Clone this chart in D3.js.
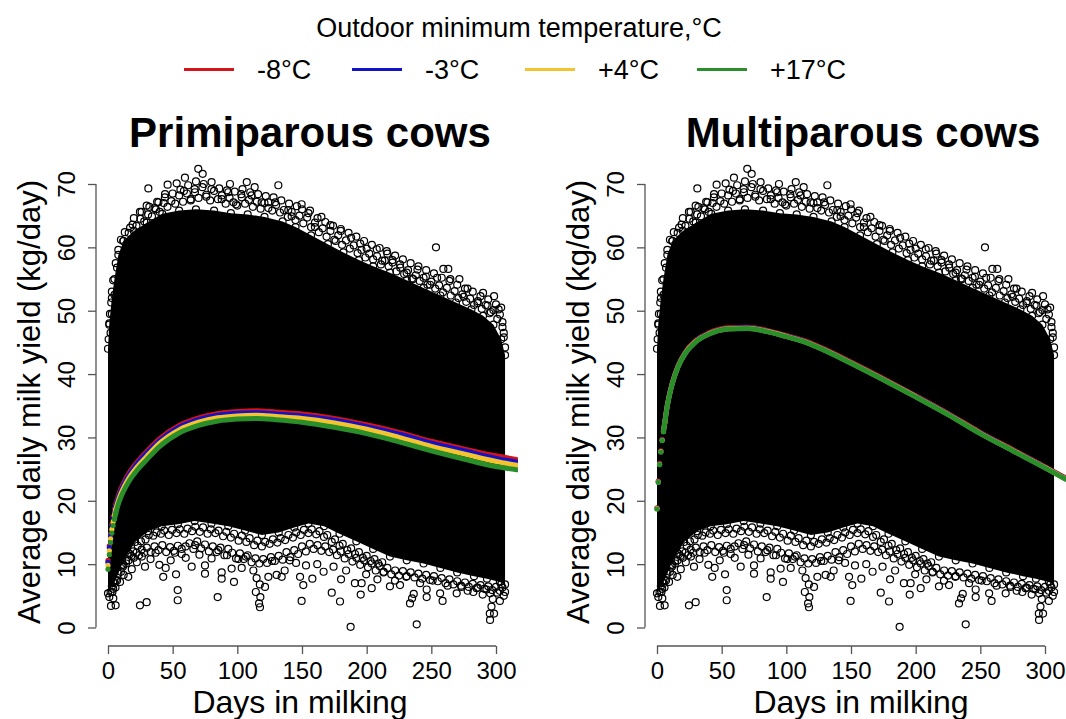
<!DOCTYPE html>
<html>
<head>
<meta charset="utf-8">
<script src="https://cdn.jsdelivr.net/npm/d3@7/dist/d3.min.js"></script>
<style>
  body { margin: 0; background: #fff; }
  svg text { font-family: "Liberation Sans", Arial, Helvetica, sans-serif; fill: #000; }
</style>
</head>
<body>
<svg id="chart" width="1066" height="719"></svg>
<script>
// legend / series
var tempLabels = ["-8°C", "-3°C", "+4°C", "+17°C"];
var panelTitles = ["Primiparous cows", "Multiparous cows"];

// fitted curves, day in milk -> kg/day
var curveDays = [0, 1, 2, 3, 4, 5, 6, 8, 10, 12, 16, 22, 30, 40, 55, 70, 85, 100, 115, 130, 150, 175, 200, 225, 250, 275, 300, 316];

var primiMinus8 = [10.6, 12.9, 14.8, 16.3, 17.5, 18.5, 19.4, 20.8, 21.9, 22.8, 24.3, 26.0, 27.8, 29.8, 31.9, 33.1, 33.8, 34.1, 34.2, 34.0, 33.7, 33.0, 32.0, 30.8, 29.4, 28.2, 27.1, 26.5];
var primiMinus3 = [10.3, 12.6, 14.5, 16.0, 17.2, 18.2, 19.1, 20.5, 21.6, 22.5, 24.0, 25.7, 27.5, 29.5, 31.6, 32.8, 33.5, 33.8, 33.9, 33.7, 33.4, 32.7, 31.7, 30.5, 29.1, 27.9, 26.7, 26.1];
var primiPlus4 = [9.8, 12.1, 14.0, 15.5, 16.7, 17.7, 18.6, 20.0, 21.1, 22.0, 23.5, 25.2, 27.0, 29.1, 31.2, 32.4, 33.1, 33.4, 33.5, 33.3, 33.0, 32.3, 31.3, 30.0, 28.6, 27.4, 26.2, 25.6];
var primiPlus17 = [9.2, 11.5, 13.4, 14.9, 16.1, 17.1, 18.0, 19.5, 20.6, 21.5, 23.0, 24.7, 26.5, 28.6, 30.7, 31.9, 32.6, 32.9, 33.0, 32.8, 32.4, 31.6, 30.6, 29.3, 27.9, 26.6, 25.4, 24.9];

var multiMinus8 = [18.9, 23.1, 25.9, 27.9, 29.7, 31.1, 32.5, 35.2, 37.2, 38.8, 41.2, 43.5, 45.3, 46.5, 47.3, 47.4, 46.9, 46.1, 45.2, 43.9, 41.9, 39.3, 36.6, 33.8, 30.8, 28.1, 25.4, 23.6];
var multiMinus3 = [18.8, 23.0, 25.8, 27.8, 29.6, 31.0, 32.4, 35.1, 37.1, 38.7, 41.1, 43.4, 45.2, 46.4, 47.2, 47.3, 46.8, 46.0, 45.1, 43.8, 41.8, 39.2, 36.5, 33.7, 30.7, 28.0, 25.3, 23.5];
var multiPlus4 = [18.75, 22.95, 25.75, 27.75, 29.55, 30.95, 32.35, 35.05, 37.05, 38.65, 41.05, 43.35, 45.15, 46.35, 47.15, 47.25, 46.75, 45.95, 45.05, 43.75, 41.75, 39.15, 36.45, 33.65, 30.65, 27.95, 25.25, 23.45];
var multiPlus17 = [18.7, 22.9, 25.7, 27.7, 29.5, 30.9, 32.3, 35.0, 37.0, 38.6, 41.0, 43.3, 45.1, 46.3, 47.1, 47.2, 46.7, 45.9, 45.0, 43.7, 41.7, 39.1, 36.4, 33.6, 30.6, 27.9, 25.2, 23.4];

// the dense cloud of daily records (same records in both panels): outline of the solid mass
var cloudTop = [[0, 44], [1, 48], [3, 52], [5, 55], [8, 58.8], [12, 61], [20, 62.6], [30, 63.9], [42, 65.3], [55, 65.8], [68, 66.0], [82, 65.8], [95, 65.4], [108, 65.2], [121, 64.8], [135, 64.1], [145, 63.2], [157, 61.9], [170, 60.5], [182, 59.2], [194, 58.0], [205, 57.0], [218, 56.0], [231, 54.8], [244, 53.6], [257, 52.4], [269, 51.3], [281, 50.2], [290, 49.2], [298, 47.8], [304, 45.5], [307, 43.0]];
var cloudBottom = [[0, 5.4], [3, 6.5], [6, 7.5], [10.5, 9.8], [15.7, 11.8], [21, 13.5], [31, 15.2], [41.5, 16.0], [54, 16.3], [67, 16.8], [80, 16.4], [93, 16.0], [106, 15.3], [119, 14.6], [132, 15.0], [144, 15.8], [155, 16.4], [167, 16.0], [179, 14.8], [192, 13.6], [205, 12.4], [218, 11.2], [231, 10.6], [244, 10.1], [257, 9.4], [270, 8.7], [283, 8.1], [293, 7.7], [303, 7.2], [307, 6.8]];

// records packed along the edge of the mass
var topFringe = [[4, 54.8], [6, 57.5], [8, 59.6], [10, 61.2], [13, 62.4], [16, 62.3], [19, 63.6], [22, 63.4], [25, 64.5], [28, 64.1], [31, 65.2], [34, 64.9], [37, 66.0], [40, 65.6], [43, 67.0], [46, 66.4], [49, 67.3], [52, 66.9], [55, 68.2], [58, 67.2], [61, 68.5], [64, 67.6], [67, 69.2], [70, 67.8], [73, 69.5], [76, 68.3], [79, 67.4], [82, 68.9], [85, 67.6], [88, 68.2], [91, 66.9], [94, 67.8], [97, 67.1], [100, 66.6], [103, 68.4], [106, 66.9], [109, 67.5], [112, 66.4], [115, 67.2], [118, 66.1], [121, 67.0], [124, 66.2], [127, 65.8], [130, 66.7], [133, 65.5], [136, 65.9], [139, 64.8], [142, 65.6], [145, 64.3], [148, 65.0], [151, 63.8], [154, 64.7], [157, 63.2], [160, 63.9], [163, 62.4], [166, 63.0], [169, 61.7], [172, 62.6], [175, 61.2], [178, 61.9], [181, 60.4], [184, 61.1], [187, 59.8], [190, 60.3], [193, 59.1], [196, 59.6], [199, 58.4], [202, 59.0], [205, 58.1], [208, 58.6], [211, 57.3], [214, 57.9], [217, 57.0], [220, 57.6], [223, 56.2], [226, 56.8], [229, 55.8], [232, 56.4], [235, 55.1], [238, 55.6], [241, 54.7], [244, 55.2], [247, 54.1], [250, 54.6], [253, 53.5], [256, 54.0], [259, 52.9], [262, 53.6], [265, 52.4], [268, 53.1], [271, 52.0], [274, 52.6], [277, 51.4], [280, 51.9], [283, 50.9], [286, 51.5], [289, 50.3], [292, 50.9], [295, 49.6], [298, 50.1], [301, 48.7], [303, 49.4], [305, 47.4], [306, 45.8], [307, 44.2], [0.5, 45.5], [1, 47.8], [1.5, 49.5], [2.5, 51.3], [3, 53.0]];
var topFringeOuter = [[20, 64.6], [26, 65.6], [32, 66.4], [38, 67.2], [44, 67.9], [50, 68.5], [56, 69.1], [62, 69.8], [68, 70.4], [74, 70.0], [80, 69.2], [86, 69.3], [92, 69.0], [98, 68.8], [104, 69.2], [110, 68.7], [116, 68.4], [122, 68.1], [128, 67.9], [134, 67.4], [140, 66.9], [146, 66.5], [150, 66.0], [155, 65.4], [162, 64.6], [168, 64.0], [174, 63.4], [180, 62.9], [186, 62.3], [192, 61.7], [198, 61.0], [204, 60.4], [210, 59.9], [216, 59.0], [222, 58.7], [228, 58.1], [234, 57.5], [240, 57.0], [246, 56.4], [252, 55.9], [258, 55.2], [264, 54.7], [270, 54.1], [276, 53.5], [282, 53.0], [288, 52.3], [294, 51.8], [300, 51.0], [304, 50.5]];
var bottomFringeInner = [[11.5, 9.6], [14, 10.5], [17, 11.6], [19.5, 12.0], [23, 12.9], [25.5, 13.6], [29, 13.9], [31.5, 14.6], [35, 14.5], [37.5, 15.0], [41, 14.8], [43.5, 15.3], [47, 14.6], [49.5, 15.4], [53, 14.9], [55.5, 15.5], [59, 14.8], [61.5, 15.6], [65, 15.2], [67.5, 15.9], [71, 15.1], [73.5, 15.8], [77, 14.8], [79.5, 15.5], [83, 14.9], [85.5, 15.3], [89, 14.4], [91.5, 15.1], [95, 14.2], [97.5, 14.8], [101, 13.7], [103.5, 14.5], [107, 13.5], [109.5, 14.1], [113, 13.0], [115.5, 13.7], [119, 12.8], [121.5, 13.5], [125, 13.2], [127.5, 13.9], [131, 13.4], [133.5, 14.1], [137, 13.8], [139.5, 14.6], [143, 14.2], [145.5, 15.0], [149, 14.6], [151.5, 15.4], [155, 14.9], [157.5, 15.5], [161, 14.7], [163.5, 15.2], [167, 14.3], [169.5, 14.6], [173, 13.5], [175.5, 13.9], [179, 12.9], [181.5, 13.2], [185, 12.2], [188, 12.5], [191, 11.6], [194, 11.9], [197, 11.0], [200, 11.3], [203, 10.5], [206, 10.8], [209, 10.1], [212, 10.3]];
var bottomFringe = [[1, 4.8], [2, 5.6], [4, 6.1], [5, 7.0], [7, 7.4], [8, 8.5], [10, 8.8], [12, 9.9], [14, 10.1], [16, 10.6], [18, 11.3], [20, 11.0], [22, 11.8], [24, 11.4], [26, 12.3], [28, 11.8], [30, 12.6], [33, 11.9], [36, 12.8], [39, 12.2], [42, 13.0], [45, 11.9], [48, 12.7], [51, 12.1], [54, 12.9], [57, 11.6], [60, 12.8], [63, 13.3], [66, 12.4], [69, 13.6], [72, 12.5], [75, 13.1], [78, 12.0], [81, 12.8], [84, 11.9], [87, 12.6], [90, 11.4], [93, 12.4], [96, 11.8], [99, 10.9], [102, 11.7], [105, 10.8], [108, 11.4], [111, 10.3], [114, 10.9], [117, 10.1], [120, 10.8], [123, 10.2], [126, 11.1], [129, 10.5], [132, 11.3], [135, 10.7], [138, 11.9], [141, 11.1], [144, 12.2], [147, 11.6], [150, 12.8], [153, 12.0], [156, 13.2], [159, 12.4], [162, 13.0], [165, 12.1], [168, 12.8], [171, 11.9], [174, 12.3], [177, 11.4], [180, 12.0], [183, 10.9], [186, 11.6], [189, 10.4], [192, 11.0], [195, 9.9], [198, 10.6], [201, 9.5], [204, 10.1], [207, 9.0], [210, 9.7], [213, 8.7], [216, 9.4], [219, 8.4], [222, 9.0], [225, 8.2], [228, 8.9], [231, 8.1], [234, 8.7], [237, 7.9], [240, 8.5], [243, 7.7], [246, 8.3], [249, 7.5], [252, 8.1], [255, 7.3], [258, 7.8], [261, 7.0], [264, 7.6], [267, 6.8], [270, 7.3], [273, 6.6], [276, 7.1], [279, 6.4], [282, 6.9], [285, 6.2], [288, 6.7], [291, 6.1], [294, 6.5], [297, 5.9], [300, 6.4], [303, 5.8], [305, 6.3], [307, 5.6]];

// single records well outside the mass
var highOutliers = [[31.2, 69.3], [46.1, 69.9], [53.1, 70.1], [59.5, 71.0], [69.8, 72.4], [73.2, 71.6], [80.1, 70.3], [94.3, 70.0], [107.3, 70.3], [113.4, 69.5], [131.7, 69.8], [139.4, 65.9], [11.8, 61.0], [9.3, 55.2], [17.1, 63.1], [24.7, 65.6], [29.9, 66.6], [39, 67.1], [44.1, 68.4], [58.7, 68.9], [67.2, 68.7], [87.9, 67.6], [93, 68.7], [103.4, 67.9], [111, 68.2], [118.8, 67.1], [124, 67.1], [129.2, 67.1], [149.7, 66.8], [156.2, 65.8], [165, 64.8], [172, 63.5], [180, 62.6], [188, 61.5], [195, 60.6], [200, 59.8], [207.8, 59.7], [215.5, 59.4], [220, 58.0], [225.8, 57.3], [230.9, 56.0], [239.3, 56.5], [245.8, 55.4], [253.6, 60.0], [254.5, 55.2], [259.3, 56.6], [263.1, 56.6], [264.7, 55.0], [271.7, 55.0], [278, 53.5], [285.7, 51.2], [290, 52.8], [293.4, 50.8], [298.5, 52.3], [302, 50.2], [305, 48.2], [306, 46.5], [2, 46.5], [3, 49.5], [5, 52.5], [7, 56.8], [36, 66.2], [64, 67.4], [76, 68.0], [99, 66.8], [142, 64.9], [160, 63.2], [176, 61.0], [212, 57.9], [236, 55.0], [249, 54.1], [275, 52.2], [296, 49.8]];
var lowOutliers = [[2.3, 3.4], [5.9, 3.5], [4.1, 4.6], [3.4, 5.6], [5.8, 6.3], [9.3, 7.2], [12.1, 8.3], [15.7, 8.0], [18.4, 9.2], [22.3, 10.3], [24.7, 3.5], [29.9, 4.0], [28.6, 9.6], [26.2, 11.2], [32.9, 10.8], [36.8, 11.8], [39.7, 9.9], [42.7, 8.0], [44.6, 9.4], [48.5, 10.6], [52.6, 8.4], [53.9, 5.9], [53.9, 4.3], [51.7, 11.8], [57, 12.4], [60.1, 11.0], [64.7, 9.6], [67.3, 13.0], [70.7, 11.5], [75, 8.5], [75, 9.8], [80.1, 10.9], [84.8, 4.8], [85.3, 12.2], [87.9, 7.7], [87.9, 8.7], [92, 11.4], [95.6, 9.3], [97.4, 7.2], [100.8, 10.8], [103.4, 9.4], [106.6, 11.2], [112.4, 9.0], [114.3, 5.6], [114.9, 7.8], [116.8, 3.8], [117.5, 3.2], [117.8, 4.8], [117.4, 6.8], [121.4, 6.4], [124, 8.0], [126.9, 10.5], [130.4, 8.3], [134.3, 8.0], [136.6, 9.0], [140.5, 10.6], [145.4, 10.2], [148.5, 8.0], [149.7, 4.2], [151, 6.7], [153.1, 9.8], [158, 7.7], [161.8, 10.0], [166.7, 8.8], [173, 5.5], [174.4, 9.6], [179.4, 4.1], [180.2, 7.6], [184.1, 9.0], [187.6, 0.1], [190.9, 7.0], [195.4, 5.2], [196.1, 7.0], [199.6, 8.4], [203.9, 6.2], [208.3, 7.6], [213.2, 8.8], [218, 6.5], [221.9, 7.4], [225.8, 6.7], [230.6, 8.0], [233.5, 3.8], [235.1, 4.6], [236.4, 5.3], [238.7, 0.5], [241.3, 7.0], [246.4, 4.8], [246.4, 6.0], [251, 7.4], [256.8, 5.4], [258.7, 4.2], [262.6, 6.6], [269.6, 5.4], [273.3, 6.4], [278.1, 5.8], [282.5, 5.6], [285.9, 6.3], [289.7, 5.2], [292.6, 6.0], [295.2, 2.2], [295.4, 1.2], [296.5, 3.3], [297.5, 4.5], [298.5, 2.2], [295.5, 5.4], [301, 5.5], [304, 6.8], [306, 5.0], [303, 4.2]];

var dayTicks = [0, 50, 100, 150, 200, 250, 300];
var yieldTicks = [0, 10, 20, 30, 40, 50, 60, 70];

var lineColors = ["#d3141b", "#1212c8", "#f4c430", "#2a8f2a"];

var svg = d3.select("#chart");

// legend on top
svg.append("text")
    .attr("x", 519).attr("y", 37)
    .attr("text-anchor", "middle")
    .style("font-size", "27px")
    .text("Outdoor minimum temperature,°C");

var legendX = [184, 352, 525, 697];
tempLabels.forEach(function(lab, i) {
    svg.append("line")
        .attr("x1", legendX[i]).attr("x2", legendX[i] + 50)
        .attr("y1", 69.5).attr("y2", 69.5)
        .attr("stroke", lineColors[i])
        .attr("stroke-width", 3);
    svg.append("text")
        .attr("x", legendX[i] + 73).attr("y", 79)
        .style("font-size", "27px")
        .text(lab);
});

function drawPanel(idx, axisX, x0, x300, titleX, xlabX, series) {
    var x = d3.scaleLinear().domain([0, 300]).range([x0, x300]);
    var y = d3.scaleLinear().domain([0, 70]).range([627.5, 184]);
    var plotRight = axisX + 422;

    var g = svg.append("g");

    svg.append("clipPath").attr("id", "clip" + idx)
        .append("rect")
        .attr("x", axisX).attr("y", 140)
        .attr("width", plotRight - axisX).attr("height", 506);

    // solid mass of records
    var outline = cloudTop.concat(cloudBottom.slice().reverse());
    g.append("path")
        .datum(outline)
        .attr("d", d3.line()
            .x(function(d) { return x(d[0]); })
            .y(function(d) { return y(d[1]); })
            .curve(d3.curveLinearClosed))
        .attr("fill", "#000");

    // open circles: edge records and outliers
    var pts = highOutliers.concat(lowOutliers, topFringeOuter, topFringe, bottomFringe, bottomFringeInner, cloudTop, cloudBottom);
    g.selectAll("circle.rec")
        .data(pts)
        .enter().append("circle")
        .attr("class", "rec")
        .attr("cx", function(d) { return x(d[0]); })
        .attr("cy", function(d) { return y(d[1]); })
        .attr("r", 3.5)
        .attr("fill", "none")
        .attr("stroke", "#000")
        .attr("stroke-width", 1.2);

    // fitted curves
    var curves = g.append("g").attr("clip-path", "url(#clip" + idx + ")");
    series.forEach(function(vals, si) {
        var pairs = curveDays.map(function(d, k) { return [d, vals[k]]; });
        curves.append("path")
            .datum(pairs.filter(function(p) { return p[0] >= 5; }))
            .attr("d", d3.line()
                .x(function(d) { return x(d[0]); })
                .y(function(d) { return y(d[1]); })
                .curve(d3.curveMonotoneX))
            .attr("fill", "none")
            .attr("stroke", lineColors[si])
            .attr("stroke-width", 5)
            .attr("stroke-linecap", "round");
        curves.selectAll("circle.s" + si)
            .data(pairs.filter(function(p) { return p[0] <= 6; }))
            .enter().append("circle")
            .attr("class", "s" + si)
            .attr("cx", function(d) { return x(d[0]); })
            .attr("cy", function(d) { return y(d[1]); })
            .attr("r", 2.6)
            .attr("fill", lineColors[si]);
    });

    // axes
    var xAxis = d3.axisBottom(x).tickValues(dayTicks).tickSize(8).tickPadding(5);
    var gx = svg.append("g").attr("transform", "translate(0,646)").call(xAxis);
    var yAxis = d3.axisLeft(y).tickValues(yieldTicks).tickSize(8).tickPadding(4);
    var gy = svg.append("g").attr("transform", "translate(" + axisX + ",0)").call(yAxis);

    [gx, gy].forEach(function(a) {
        a.select(".domain").attr("stroke", "#555").attr("stroke-width", 1.3);
        a.selectAll(".tick line").attr("stroke", "#555").attr("stroke-width", 1.3);
        a.selectAll(".tick text").style("font-size", "24px")
            .style("font-family", "'Liberation Sans', Arial, sans-serif").attr("fill", "#000");
    });
    gx.select(".domain").attr("d", "M" + x(0) + ",0H" + x(300));
    gx.selectAll(".tick text").attr("y", 33).attr("dy", null);
    gy.select(".domain").attr("d", "M0," + y(0) + "V" + y(70));
    gy.selectAll(".tick text")
        .attr("x", null).attr("dy", null)
        .attr("text-anchor", "middle")
        .attr("transform", "translate(-21,0) rotate(-90)");

    // titles
    svg.append("text")
        .attr("x", titleX).attr("y", 147)
        .attr("text-anchor", "middle")
        .style("font-size", "42px").style("font-weight", "bold")
        .text(panelTitles[idx]);
    svg.append("text")
        .attr("x", xlabX).attr("y", 713)
        .attr("text-anchor", "middle")
        .style("font-size", "32px")
        .text("Days in milking");
    svg.append("text")
        .attr("transform", "translate(" + (axisX - 56) + ",402) rotate(-90)")
        .attr("text-anchor", "middle")
        .style("font-size", "31px")
        .text("Average daily milk yield (kg/day)");
}

drawPanel(0, 96, 108, 496, 310, 300, [primiMinus8, primiMinus3, primiPlus4, primiPlus17]);
drawPanel(1, 645, 657, 1045, 863, 861, [multiMinus8, multiMinus3, multiPlus4, multiPlus17]);
</script>
</body>
</html>
